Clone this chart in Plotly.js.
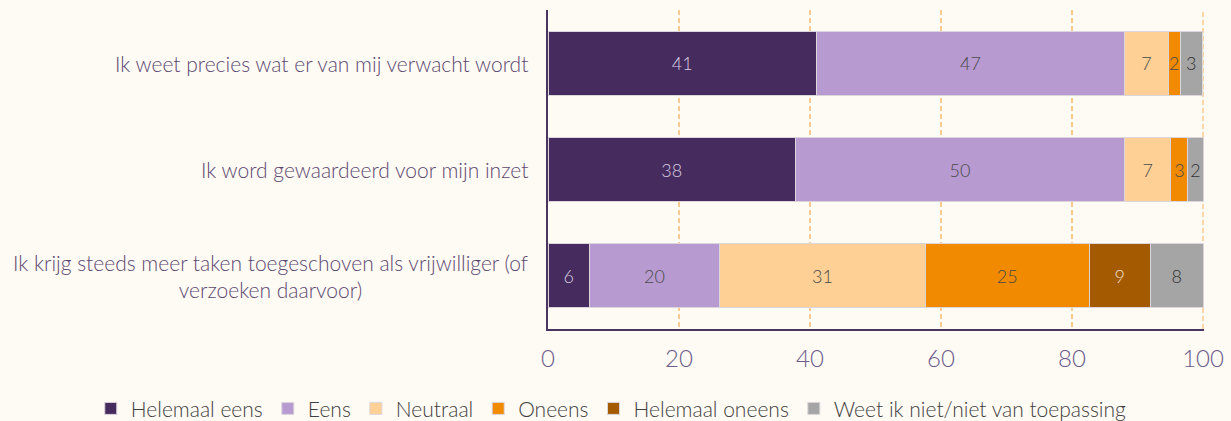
<!DOCTYPE html>
<html><head><meta charset="utf-8">
<script src="https://cdn.plot.ly/plotly-3.0.1.min.js"></script>
<style>html,body{margin:0;padding:0;background:#fefaf4;}#chart{width:1231px;height:421px;}</style>
</head><body><div id="chart"></div>
<script>
const categories = [
  "Ik weet precies wat er van mij verwacht wordt",
  "Ik word gewaardeerd voor mijn inzet",
  "Ik krijg steeds meer taken toegeschoven als vrijwilliger (of<br>verzoeken daarvoor)"
];
const seriesNames = ["Helemaal eens","Eens","Neutraal","Oneens","Helemaal oneens","Weet ik niet/niet van toepassing"];
const helemaalEens   = [41.0, 37.8, 6.3];
const eens           = [47.0, 50.2, 19.9];
const neutraal       = [6.7, 7.1, 31.4];
const oneens         = [1.8, 2.6, 25.0];
const helemaalOneens = [0, 0, 9.4];
const weetNiet       = [3.4, 2.3, 8.0];
const xTicks = [0, 20, 40, 60, 80, 100];

const values = [helemaalEens, eens, neutraal, oneens, helemaalOneens, weetNiet];
const colors = ["#462b5e","#b79ad0","#fed095","#f28a00","#a35a00","#a5a5a5"];
const textColors = ["#d6cde0","#4a4a4a","#4a4a4a","#4a4a4a","#f0e0cc","#333333"];
const FONT = "Lato, 'Open Sans', sans-serif";
const GRID = "#fcc98e";

const traces = values.map((v, i) => ({
  type: "bar", orientation: "h", name: seriesNames[i],
  x: v, y: categories,
  marker: {color: colors[i], line: {color: "#dcd6dc", width: 1}},
  text: v.map(d => d > 0 ? String(Math.round(d)) : ""),
  textposition: "inside", insidetextanchor: "middle",
  insidetextfont: {family: FONT, size: 18, color: textColors[i], weight: 300},
  constraintext: "none",
  hoverinfo: "none"
}));

const xMax = xTicks[xTicks.length - 1];

const layout = {
  width: 1231, height: 421,
  barmode: "stack", bargap: 0.4,
  paper_bgcolor: "#fefaf4", plot_bgcolor: "#fefaf4",
  margin: {l: 548, r: 27, t: 10, b: 92, pad: 0, autoexpand: false},
  font: {family: FONT, weight: 300},
  xaxis: {
    range: [0, 100.15], tickvals: xTicks, ticktext: xTicks.map(String),
    showgrid: true, gridcolor: GRID, gridwidth: 1.5, griddash: "5px,3px",
    zeroline: false, showline: true, linecolor: "#4a3560", linewidth: 2,
    ticks: "", ticklabelstandoff: 7,
    tickfont: {family: FONT, size: 24, color: "#6b5a8a", weight: 300},
    fixedrange: true
  },
  yaxis: {
    autorange: "reversed", showticklabels: false, showgrid: false,
    zeroline: false, showline: true, linecolor: "#4a3560", linewidth: 2, ticks: ""
  },
  shapes: [{
    type: "line", xref: "x", yref: "paper", x0: xMax, x1: xMax, y0: 0, y1: 1,
    layer: "below", line: {color: GRID, width: 1.5, dash: "5px,3px"}
  }],
  annotations: categories.map(c => ({
    xref: "paper", yref: "y", x: 0, y: c, xanchor: "right", xshift: -18,
    text: c, showarrow: false, align: "center",
    font: {family: FONT, size: 21, color: "#5c4870", weight: 300}
  })),
  showlegend: true,
  legend: {
    orientation: "h", xref: "paper", yref: "paper",
    x: -0.697, xanchor: "left", y: -0.25, yanchor: "middle",
    font: {family: FONT, size: 21, color: "#404040", weight: 300},
    traceorder: "normal", bgcolor: "rgba(0,0,0,0)", itemwidth: 30
  }
};
Plotly.newPlot("chart", traces, layout, {displayModeBar: false, staticPlot: true});
</script></body></html>
